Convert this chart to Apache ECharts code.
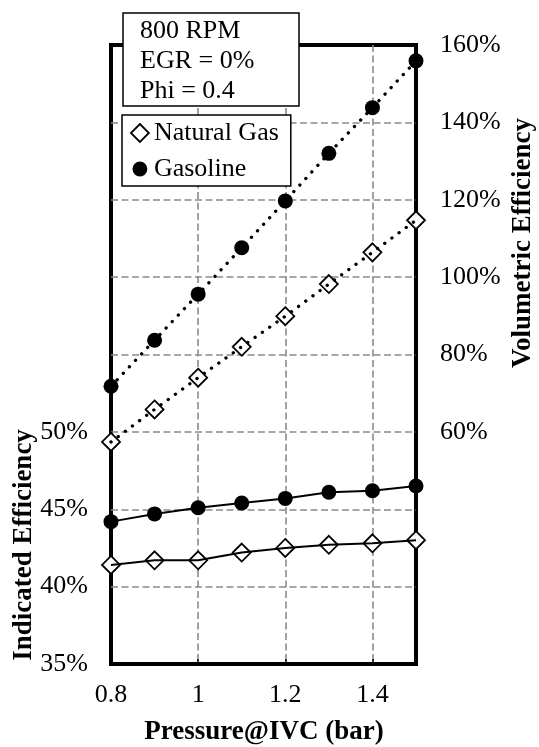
<!DOCTYPE html>
<html>
<head>
<meta charset="utf-8">
<title>Indicated and Volumetric Efficiency vs Pressure@IVC</title>
<script src="https://cdn.jsdelivr.net/npm/echarts@6/dist/echarts.min.js"></script>
<style>
  html, body { margin: 0; padding: 0; background: #fff; }
  #chart { width: 539px; height: 747px; }
</style>
</head>
<body>
<div id="chart"></div>
<script>
// Intake pressure at IVC (bar)
const pressure = [0.8, 0.9, 1.0, 1.1, 1.2, 1.3, 1.4, 1.5];

// Indicated efficiency (%), left axis
const ngIndicated  = [41.4, 41.7, 41.7, 42.2, 42.5, 42.7, 42.8, 43.0];
const gasIndicated = [44.2, 44.7, 45.1, 45.4, 45.7, 46.1, 46.2, 46.5];

// Volumetric efficiency (%), right axis
const ngVolumetric  = [57.4, 65.8, 74.0, 82.0, 89.9, 98.2, 106.4, 114.7];
const gasVolumetric = [71.8, 83.7, 95.6, 107.6, 119.7, 132.0, 143.8, 155.9];

// Tick labels that are printed
const xTickLabels = [0.8, 1, 1.2, 1.4];
const leftTickLabels = [35, 40, 45, 50];
const rightTickLabels = [60, 80, 100, 120, 140, 160];

// Operating condition box
const conditions = ['800 RPM', 'EGR = 0%', 'Phi = 0.4'];

const FONT = "'Liberation Serif', 'Times New Roman', 'DejaVu Serif', serif";
const pairs = (ys) => pressure.map((x, i) => [x, ys[i]]);
const has = (list, v) => list.some(t => Math.abs(t - v) < 1e-6);

const diamondStyle = { color: '#fff', borderColor: '#000', borderWidth: 1.8, opacity: 1 };
const circleStyle = { color: '#000', borderWidth: 0, opacity: 1 };
const dotted = { color: '#000', width: 3.3, type: [0.1, 8.8], cap: 'round', opacity: 1 };
const solid = { color: '#000', width: 2, opacity: 1 };
// filled circle with a margin so it sits inside an 18px legend cell
const legendCircle = 'path://M0,0 M18,18 M9,1.6 A7.4,7.4 0 1,1 9,16.4 A7.4,7.4 0 1,1 9,1.6 Z';

function markerSeries(name, ys, axis, symbol, size, style) {
  return {
    name, type: 'scatter', yAxisIndex: axis, data: pairs(ys),
    symbol, symbolSize: size, itemStyle: style, z: 2, silent: true
  };
}
function lineSeries(name, ys, axis, style) {
  return {
    name, type: 'line', yAxisIndex: axis, data: pairs(ys),
    showSymbol: false, symbol: 'none', lineStyle: style, z: 3, silent: true
  };
}

const gridDash = { color: '#8a8a8a', width: 1.6, type: [7, 3.5] };
const axisTitle = { fontFamily: FONT, fontSize: 27, fontWeight: 'bold', fill: '#000',
                    align: 'center', verticalAlign: 'middle' };

const chart = echarts.init(document.getElementById('chart'), null, { renderer: 'canvas' });
chart.setOption({
  animation: false,
  backgroundColor: '#fff',
  title: {
    text: conditions.join('\n'),
    left: 123, top: 13,
    padding: [3, 45, 0, 17],
    backgroundColor: '#fff',
    borderColor: '#000', borderWidth: 1.5,
    textStyle: { fontFamily: FONT, fontSize: 26, fontWeight: 'normal', lineHeight: 30, color: '#000' }
  },
  legend: {
    orient: 'vertical',
    left: 122, top: 115,
    padding: [5, 12, 4, 8],
    itemGap: 10,
    itemWidth: 18, itemHeight: 18,
    backgroundColor: '#fff',
    borderColor: '#000', borderWidth: 1.5,
    selectedMode: false,
    textStyle: { fontFamily: FONT, fontSize: 26, lineHeight: 26, color: '#000' },
    data: [
      { name: 'Natural Gas', icon: 'diamond', itemStyle: diamondStyle },
      { name: 'Gasoline', icon: legendCircle, itemStyle: circleStyle }
    ]
  },
  grid: {
    left: 111, right: 123, top: 45, bottom: 83,
    show: true, borderColor: '#000', borderWidth: 4,
    backgroundColor: 'transparent',
    containLabel: false, outerBoundsMode: 'none'
  },
  xAxis: {
    type: 'value', min: 0.8, max: 1.5, interval: 0.2,
    axisLine: { show: false },
    axisTick: { show: true, inside: true, length: 5, lineStyle: { color: '#000', width: 1.5 } },
    axisLabel: {
      margin: 18, fontFamily: FONT, fontSize: 26, color: '#000',
      showMaxLabel: false,
      formatter: v => has(xTickLabels, v) ? String(+v.toFixed(1)) : ''
    },
    splitLine: { show: true, showMinLine: false, showMaxLine: false, lineStyle: gridDash }
  },
  yAxis: [
    {
      type: 'value', min: 35, max: 75, interval: 5, position: 'left',
      axisLine: { show: false }, axisTick: { show: false },
      axisLabel: {
        margin: 23, fontFamily: FONT, fontSize: 26, color: '#000',
        formatter: v => has(leftTickLabels, v) ? v + '%' : ''
      },
      splitLine: { show: true, showMinLine: false, showMaxLine: false, lineStyle: gridDash }
    },
    {
      type: 'value', min: 0, max: 160, interval: 20, position: 'right',
      axisLine: { show: false }, axisTick: { show: false },
      axisLabel: {
        margin: 24, fontFamily: FONT, fontSize: 26, color: '#000',
        formatter: v => has(rightTickLabels, v) ? v + '%' : ''
      },
      splitLine: { show: false }
    }
  ],
  graphic: [
    { type: 'text', x: 264, y: 732, style: Object.assign({ text: 'Pressure@IVC (bar)' }, axisTitle) },
    { type: 'text', x: 24, y: 545, rotation: Math.PI / 2,
      style: Object.assign({ text: 'Indicated Efficiency' }, axisTitle) },
    { type: 'text', x: 523, y: 243, rotation: Math.PI / 2,
      style: Object.assign({ text: 'Volumetric Efficiency' }, axisTitle) }
  ],
  series: [
    markerSeries('Natural Gas', ngVolumetric, 1, 'diamond', 18, diamondStyle),
    markerSeries('Gasoline', gasVolumetric, 1, 'circle', 15, circleStyle),
    markerSeries('Natural Gas', ngIndicated, 0, 'diamond', 18, diamondStyle),
    markerSeries('Gasoline', gasIndicated, 0, 'circle', 15, circleStyle),
    lineSeries('Natural Gas', ngVolumetric, 1, dotted),
    lineSeries('Gasoline', gasVolumetric, 1, dotted),
    lineSeries('Natural Gas', ngIndicated, 0, solid),
    lineSeries('Gasoline', gasIndicated, 0, solid)
  ]
});
</script>
</body>
</html>
